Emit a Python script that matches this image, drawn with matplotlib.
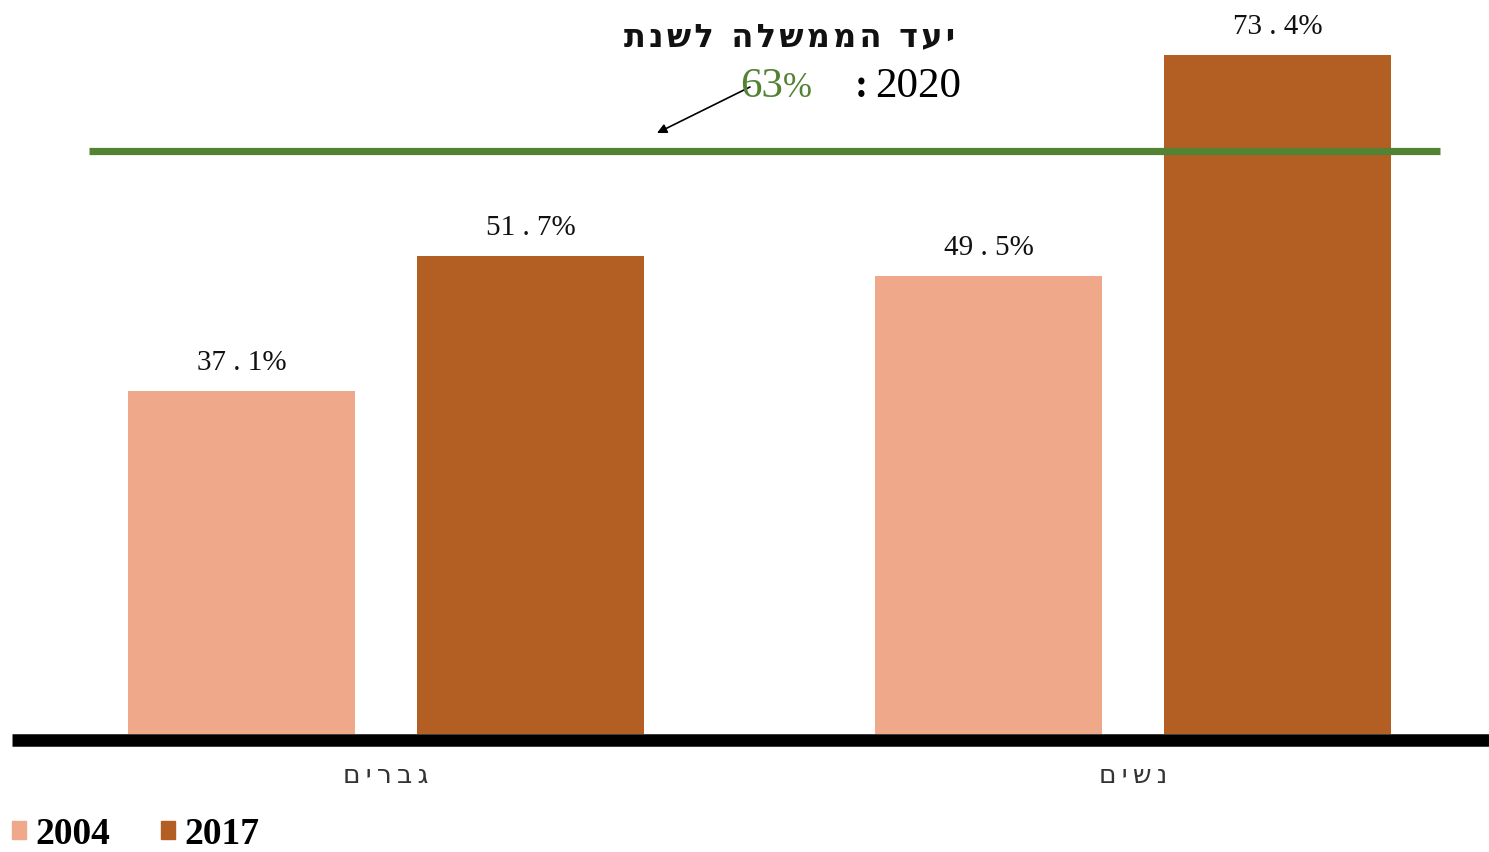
import matplotlib
matplotlib.use("Agg")
import matplotlib.pyplot as plt
from matplotlib.patches import Patch
import numpy as np

# ---- data ----
categories = ["גברים", "נשים"]
series_names = ["2004", "2017"]
values_2004 = [37.1, 49.5]
values_2017 = [51.7, 73.4]
target_value = 63
target_title = "יעד הממשלה לשנת"
target_year = "2020"

colors = ["#F0A88A", "#B35E22"]
green = "#548235"

def vis(s, sp="\u200a"):
    # matplotlib has no bidi support: reverse Hebrew for visual order, letter-spaced
    return sp.join(s[::-1])

W, H = 1489, 853
fig = plt.figure(figsize=(W / 100, H / 100), dpi=100)
ax = fig.add_axes([12 / W, (H - 735) / H, (W - 12) / W, 735 / H])

x = np.arange(len(categories))
bw = 227 / 747
off = 144.5 / 747
ax.bar(x - off, values_2004, bw, color=colors[0], zorder=2)
ax.bar(x + off, values_2017, bw, color=colors[1], zorder=2)

ax.set_xlim((12 - 386) / 747, (1489 - 386) / 747)
ax.set_ylim(0, 735 / 9.25)
for s in ax.spines.values():
    s.set_visible(False)
ax.set_xticks([])
ax.set_yticks([])

# baseline
ax.plot([(12 - 386) / 747, (1489 - 386) / 747], [-0.6, -0.6], color="black",
        lw=9, solid_capstyle="butt", clip_on=False, zorder=3)

# value labels
serif = ["Liberation Serif", "DejaVu Serif"]
for xs, vals in ((x - off, values_2004), (x + off, values_2017)):
    for xi, v in zip(xs, vals):
        lbl = f"{v:.1f}".replace(".", " . ") + "%"
        ax.text(xi, v + 1.75, lbl, ha="center", va="bottom", fontsize=21,
                family=serif, color="#111111", zorder=4)

# category labels
for xi, c in zip(x, categories):
    ax.text(xi, -3.0, vis(c, "\u2009"), ha="center", va="top", fontsize=19,
            family=["DejaVu Sans"], color="#333333", clip_on=False)

# target line
ax.plot([(89 - 386) / 747, (1440 - 386) / 747], [target_value, target_value],
        color=green, lw=5.2, solid_capstyle="butt", zorder=3)

# target annotation
fig.text(955 / W, 1 - 38 / H, vis(target_title), ha="right", va="center",
         fontsize=23, fontweight="bold", family=["DejaVu Sans"], color="#111111")
fig.text(961 / W, 1 - 97 / H, target_year, ha="right", va="baseline",
         fontsize=31, family=serif, color="black")
fig.text(861 / W, 1 - 97 / H, ":", ha="center", va="baseline",
         fontsize=28, fontweight="bold", family=serif, color="black")
fig.text(783 / W, 1 - 97 / H, f"{target_value}", ha="right", va="baseline",
         fontsize=31, family=serif, color=green)
fig.text(783 / W, 1 - 97 / H, "%", ha="left", va="baseline",
         fontsize=25, family=serif, color=green)
ax.annotate("", xy=((657 - 386) / 747, (735 - 134) / 9.25),
            xytext=((750 - 386) / 747, (735 - 88) / 9.25),
            arrowprops=dict(arrowstyle="-|>", color="black", lw=1.2,
                            mutation_scale=14, shrinkA=0, shrinkB=0))

# legend
handles = [Patch(color=c) for c in colors]
fig.legend(handles, series_names, loc="lower left",
           bbox_to_anchor=(12 / W, 0.5 / H), ncol=2, frameon=False,
           prop=dict(family=serif, weight="bold", size=27),
           handlelength=0.38, handleheight=0.38, handletextpad=0.25,
           columnspacing=1.35, borderaxespad=0, borderpad=0)

fig.savefig("out.png", dpi=100)
